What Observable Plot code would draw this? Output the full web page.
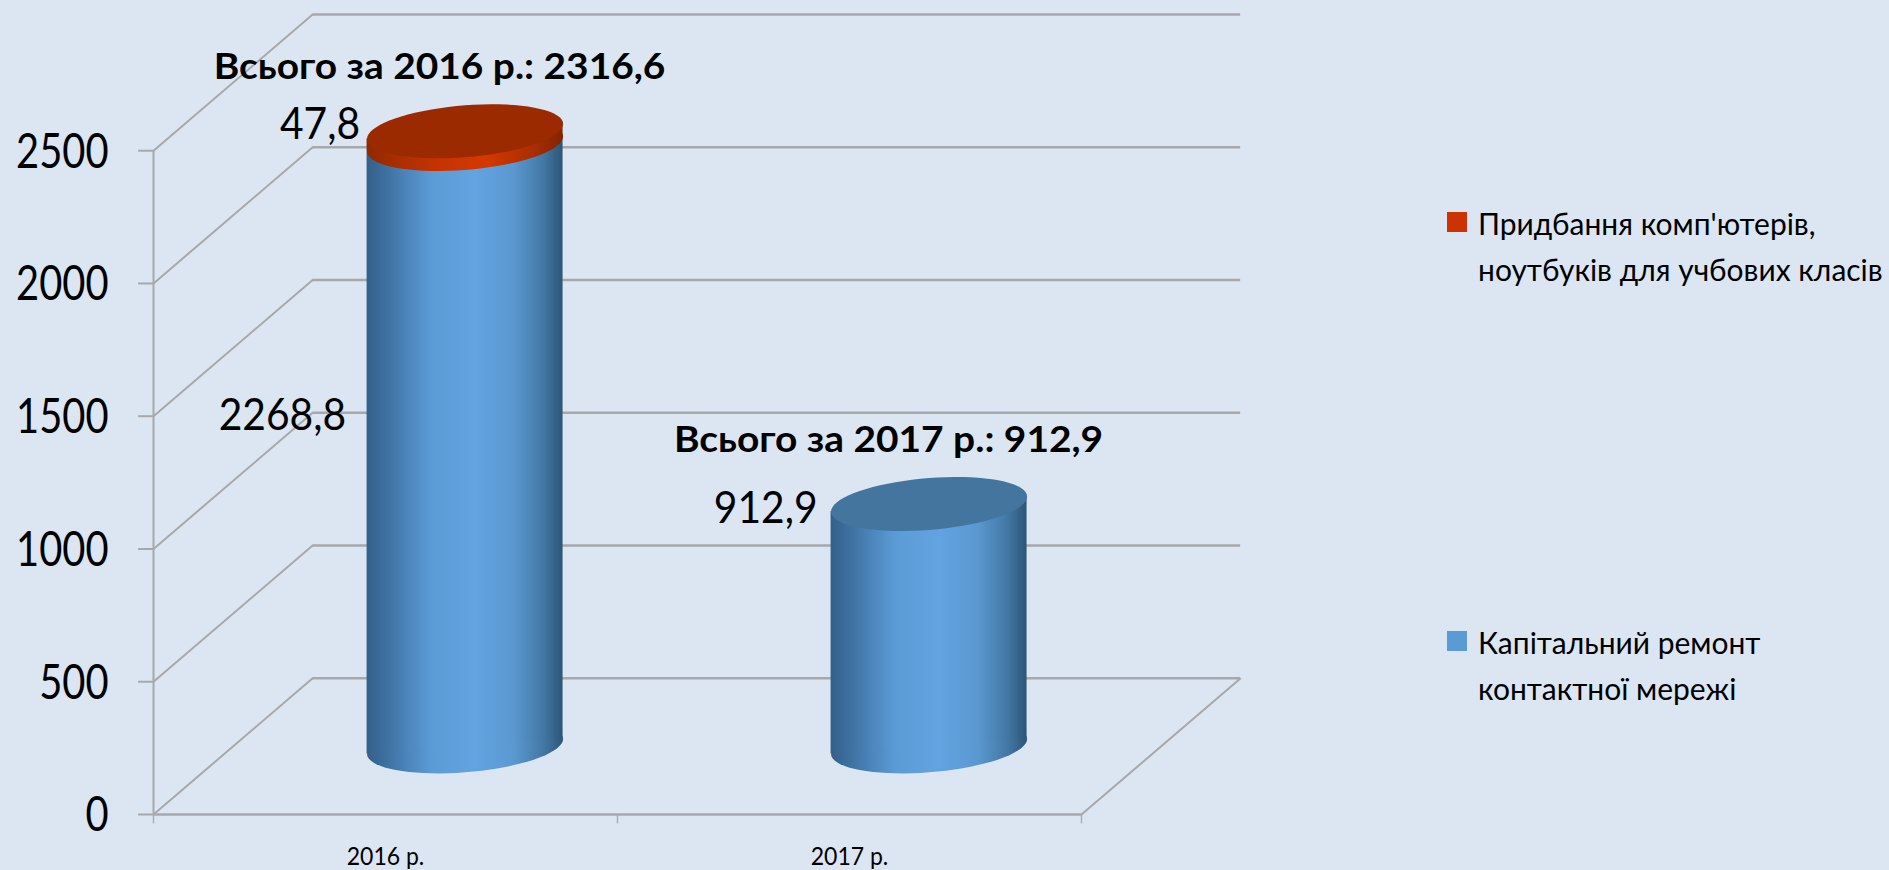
<!DOCTYPE html>
<html lang="uk"><head><meta charset="utf-8">
<script src="https://cdn.jsdelivr.net/npm/d3@7"></script>
<script src="https://cdn.jsdelivr.net/npm/@observablehq/plot@0.6"></script>
<style>
html,body{margin:0;padding:0;background:#DCE6F2;overflow:hidden}
#wrap{position:relative;width:1889px;height:870px}
.lg{position:absolute;left:1447px;font:31px/46px Lato,sans-serif;color:#000;white-space:nowrap}
.lg i{position:absolute;left:0;width:20px;height:20px}
.lg span{display:block;margin-left:31px;transform:scaleX(.967);transform-origin:left center}
</style></head><body><div id="wrap"></div>
<script>
const categories = ["2016 р.", "2017 р."];
const repairValues = [2268.8, 912.9];
const computerValues = [47.8, 0];
const totals = [2316.6, 912.9];
const totalLabels = ["Всього за 2016 р.: 2316,6", "Всього за 2017 р.: 912,9"];
const yTicks = [0, 500, 1000, 1500, 2000, 2500];
const seriesNames = ["Придбання комп'ютерів,\nноутбуків для учбових класів", "Капітальний ремонт\nконтактної мережі"];

const depthX = 0.343, depthY = 513, barW = 0.4224;
const cx = i => i + 0.5 + depthX / 2;
const midY = depthY / 2;
const W = 98, H = 27, phi = Math.asin(-7.5 / H), skew = -15 / 196;
const grid = "#a6a8ab";
const comma = d => String(d).replace(".", ",");

const ellipse = {draw(ctx) {
  for (let k = 0; k <= 72; k++) {
    const t = k / 72 * 2 * Math.PI, x = W * Math.cos(t), y = H * Math.sin(t + phi);
    k ? ctx.lineTo(x, y) : ctx.moveTo(x, y);
  }
  ctx.closePath();
}};
const sheared = (index, scales, values, dims, context, next) => {
  const g = next(index, scales, values, dims, context);
  d3.select(g).selectAll("rect").attr("transform", function () {
    const x = +this.getAttribute("x") + this.getAttribute("width") / 2;
    return `matrix(1 ${skew} 0 1 0 ${-skew * x})`;
  });
  return g;
};
// Tags a text mark with the width factor that fits Lato to the reference's face.
const fitTo = f => (index, scales, values, dims, context, next) => {
  const g = next(index, scales, values, dims, context);
  g.setAttribute("data-fit", f);
  return g;
};
const defs = () => {
  const s = (id, stops) => `<linearGradient id="${id}" x1="0" x2="1" y1="0" y2="0">` +
    stops.map(([o, c]) => `<stop offset="${o}" stop-color="${c}"/>`).join("") + `</linearGradient>`;
  const g = d3.create("svg:g");
  g.html("<defs>" +
    s("blueG", [[0, "#33608a"], [.1, "#3e70a0"], [.2, "#4a84ba"], [.33, "#5b9bd5"], [.55, "#62a3e1"], [.75, "#5a98d0"], [.9, "#4378a6"], [1, "#2e5577"]]) +
    s("redG", [[0, "#8f2800"], [.12, "#a52d00"], [.35, "#c43300"], [.6, "#d63800"], [.85, "#a92e00"], [1, "#822400"]]) +
    "</defs>");
  return g.node();
};

const bars = categories.map((c, i) => ({i, v: repairValues[i]}));
const caps = categories.map((c, i) => ({i, v: computerValues[i], base: repairValues[i]})).filter(d => d.v > 0);

const plot = Plot.plot({
  width: 1889, height: 870,
  marginLeft: 153, marginRight: 808, marginTop: 14, marginBottom: 56,
  style: {background: "transparent", fontFamily: "Lato,sans-serif", color: "#000", overflow: "visible"},
  x: {domain: [0, 2], axis: null},
  y: {domain: [0, 2500 + depthY], axis: null},
  marks: [
    defs,
    // back wall and side wall
    Plot.ruleY(yTicks, {y: d => d + depthY, x1: depthX, x2: 2 + depthX, stroke: grid, strokeWidth: 2.6}),
    Plot.link(yTicks, {x1: 0, y1: d => d, x2: depthX, y2: d => d + depthY, stroke: grid, strokeWidth: 2}),
    Plot.link([2], {x1: d => d, y1: 0, x2: d => d + depthX, y2: depthY, stroke: grid, strokeWidth: 2}),
    // front axes
    Plot.ruleX([0], {y1: 0, y2: 2500, stroke: grid, strokeWidth: 2}),
    Plot.ruleY([0], {x1: 0, x2: 2, stroke: grid, strokeWidth: 2.6}),
    Plot.ruleY(yTicks, {x1: -0.032, x2: 0, stroke: grid, strokeWidth: 2}),
    Plot.ruleX([0, 1, 2], {y1: 0, y2: -35, stroke: grid, strokeWidth: 1.4}),
    Plot.axisY(yTicks, {anchor: "left", tickSize: 0, tickPadding: 45, fontSize: 48, dy: 1.5, label: null, tickFormat: d => String(d)}),
    Plot.text(categories, {render: fitTo(0.92), x: (d, i) => i + 0.5, y: 0, dy: 42, fontSize: 25, text: d => d}),
    // cylinders
    Plot.dot(bars, {x: d => cx(d.i), y: midY, symbol: ellipse, fill: "url(#blueG)", stroke: "none"}),
    Plot.rect(bars, {x1: d => cx(d.i) - barW / 2, x2: d => cx(d.i) + barW / 2, y1: midY, y2: d => midY + d.v, fill: "url(#blueG)", render: sheared}),
    Plot.dot(caps, {x: d => cx(d.i), y: d => midY + d.base, symbol: ellipse, fill: "url(#redG)", stroke: "none"}),
    Plot.rect(caps, {x1: d => cx(d.i) - barW / 2, x2: d => cx(d.i) + barW / 2, y1: d => midY + d.base, y2: d => midY + d.base + d.v, fill: "url(#redG)", render: sheared}),
    Plot.dot(caps, {x: d => cx(d.i), y: d => midY + d.base + d.v, symbol: ellipse, fill: "#9c2a00", stroke: "none"}),
    Plot.dot(bars.filter(d => computerValues[d.i] === 0), {x: d => cx(d.i), y: d => midY + d.v, symbol: ellipse, fill: "#44759f", stroke: "none"}),
    // value labels
    Plot.text([computerValues[0]], {render: fitTo(0.905), x: cx(0) - barW / 2, y: midY + totals[0], dx: -7, dy: -7, text: comma, textAnchor: "end", fontSize: 45}),
    Plot.text([repairValues[0]], {render: fitTo(0.905), x: cx(0) - barW / 2, y: midY + repairValues[0] / 2, dx: -21, dy: -30, text: comma, textAnchor: "end", fontSize: 45}),
    Plot.text([repairValues[1]], {render: fitTo(0.905), x: cx(1) - barW / 2, y: midY + repairValues[1], dx: -13.5, dy: 4.6, text: comma, textAnchor: "end", fontSize: 45}),
    // totals
    Plot.text([totalLabels[0]], {render: fitTo(1.08), x: cx(0), y: midY + totals[0], dx: -25.5, dy: -64, text: d => d, fontSize: 36, fontWeight: "bold"}),
    Plot.text([totalLabels[1]], {render: fitTo(1.08), x: cx(1), y: midY + totals[1], dx: -40.5, dy: -64, text: d => d, fontSize: 36, fontWeight: "bold"})
  ]
});
const wrap = document.getElementById("wrap");
wrap.appendChild(plot);
const fit = (selection, f) => selection.each(function () {
  this.setAttribute("textLength", this.getComputedTextLength() * f);
  this.setAttribute("lengthAdjust", "spacingAndGlyphs");
});
fit(d3.select(plot).selectAll('g[aria-label="y-axis tick label"] text'), 0.83);
d3.select(plot).selectAll("g[data-fit]").each(function () {
  fit(d3.select(this).selectAll("text"), +this.getAttribute("data-fit"));
});
const legend = [[seriesNames[0], "#cb3400", 199.5, 12.5], [seriesNames[1], "#5b9bd5", 619.4, 11.6]];
for (const [name, col, top, sw] of legend) {
  const d = document.createElement("div");
  d.className = "lg"; d.style.top = top + "px";
  const i = document.createElement("i"); i.style.background = col; i.style.top = sw + "px";
  d.appendChild(i);
  name.split("\n").forEach(t => { const s = document.createElement("span"); s.textContent = t; d.appendChild(s); });
  wrap.appendChild(d);
}
</script></body></html>
